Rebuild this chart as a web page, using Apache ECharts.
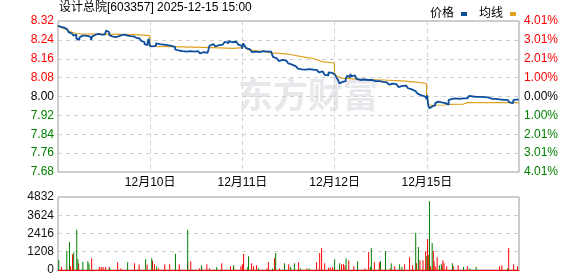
<!DOCTYPE html>
<html><head><meta charset="utf-8">
<script src="https://cdn.jsdelivr.net/npm/echarts@6/dist/echarts.min.js"></script>
<style>html,body{margin:0;padding:0;background:#fff}#c{width:578px;height:276px}</style>
</head><body><div id="c"></div>
<script>
const titleText = '设计总院[603357] 2025-12-15 15:00';
const preClose = 8.00;
const dayLabels = ['', '12月10日', '12月11日', '12月12日', '12月15日', ''];
const rightLabels = ['4.01%','3.01%','2.01%','1.00%','0.00%','1.00%','2.01%','3.01%','4.01%'];
const volTicks = [0, 1208, 2416, 3624, 4832];

// [minute, price]
const price = [
[0,8.300],[4,8.295],[8,8.290],[12,8.292],[16,8.288],[20,8.285],[24,8.280],[28,8.272],[32,8.268],[36,8.262],[40,8.258],[44,8.262],[48,8.245],[52,8.240],[56,8.250],[60,8.258],[64,8.262],[68,8.258],[72,8.262],[76,8.256],[80,8.260],[84,8.252],[86,8.240],[90,8.255],[94,8.262],[98,8.258],[102,8.265],[106,8.258],[110,8.262],[114,8.255],[118,8.262],[122,8.268],[126,8.280],[130,8.272],[134,8.260],[138,8.255],[142,8.258],[146,8.252],[150,8.258],[154,8.255],[158,8.262],[162,8.260],[166,8.266],[170,8.262],[174,8.255],[178,8.258],[182,8.252],[186,8.256],[190,8.250],[194,8.255],[198,8.250],[202,8.248],[206,8.252],[210,8.245],[214,8.240],[218,8.235],[222,8.232],[226,8.222],[230,8.218],[234,8.228],[237,8.245],[240,8.215],
[241,8.212],[246,8.205],[251,8.215],[256,8.225],[261,8.222],[266,8.228],[271,8.220],[276,8.215],[281,8.218],[286,8.212],[291,8.215],[296,8.208],[301,8.210],[306,8.200],[311,8.195],[316,8.198],[321,8.192],[326,8.195],[331,8.190],[336,8.196],[341,8.192],[346,8.195],[351,8.190],[356,8.196],[361,8.192],[366,8.188],[371,8.183],[376,8.188],[381,8.180],[386,8.185],[391,8.182],[396,8.215],[401,8.222],[406,8.218],[411,8.212],[416,8.218],[421,8.215],[426,8.220],[431,8.228],[436,8.232],[441,8.226],[446,8.235],[451,8.230],[456,8.236],[461,8.232],[466,8.225],[471,8.220],[476,8.215],[481,8.202],
[484,8.225],[488,8.215],[492,8.205],[497,8.200],[502,8.192],[507,8.188],[512,8.190],[517,8.185],[522,8.188],[527,8.183],[532,8.192],[537,8.196],[542,8.190],[547,8.195],[552,8.190],[557,8.185],[562,8.168],[567,8.162],[572,8.160],[577,8.150],[582,8.155],[587,8.148],[592,8.152],[597,8.145],[602,8.140],[607,8.135],[612,8.130],[617,8.128],[622,8.122],[627,8.118],[632,8.115],[637,8.118],[642,8.114],[647,8.118],[652,8.116],[657,8.118],[662,8.114],[667,8.118],[672,8.112],[677,8.108],[682,8.102],[687,8.106],[692,8.100],[697,8.092],[702,8.090],[707,8.102],[712,8.100],[717,8.095],[722,8.092],
[724,8.090],[728,8.080],[732,8.070],[736,8.055],[740,8.062],[744,8.068],[748,8.065],[752,8.075],[756,8.088],[760,8.082],[764,8.095],[768,8.085],[772,8.090],[776,8.082],[780,8.075],[785,8.070],[790,8.074],[795,8.072],[800,8.076],[805,8.070],[810,8.074],[815,8.070],[820,8.072],[825,8.065],[830,8.060],[835,8.065],[840,8.058],[845,8.062],[850,8.056],[855,8.060],[860,8.055],[865,8.050],[870,8.055],[875,8.048],[880,8.052],[885,8.046],[890,8.040],[895,8.045],[900,8.042],[905,8.046],[910,8.040],[915,8.035],[920,8.030],[925,8.025],[930,8.022],[935,8.015],[940,8.012],[945,8.005],[950,8.010],[955,8.000],[960,8.005],[963,7.990],
[965,8.005],[968,7.960],[971,7.950],[974,7.958],[978,7.955],[982,7.962],[986,7.972],[990,7.978],[994,7.970],[998,7.975],[1003,7.978],[1008,7.972],[1013,7.976],[1017,7.965],[1021,7.985],[1025,7.990],[1030,7.995],[1035,7.992],[1040,7.996],[1045,7.990],[1050,7.995],[1055,7.992],[1060,7.996],[1065,7.992],[1070,8.000],[1075,8.003],[1080,8.000],[1085,8.004],[1090,7.998],[1095,7.995],[1100,7.998],[1105,7.994],[1110,7.997],[1115,7.993],[1120,7.996],[1125,7.992],[1130,7.990],[1135,7.993],[1140,7.990],[1145,7.992],[1150,7.988],[1155,7.990],[1160,7.986],[1165,7.990],[1170,7.986],[1175,7.988],[1180,7.975],[1185,7.972],[1190,7.985],[1195,7.988],[1200,7.985],[1204,7.988]
];

// [minute, average price]
const avgPrice = [
[0,8.300],[10,8.292],[20,8.285],[30,8.276],[45,8.268],[60,8.265],[120,8.264],[200,8.262],[240,8.258],
[241,8.212],[300,8.211],[400,8.207],[460,8.204],[482,8.207],
[483,8.225],[490,8.205],[500,8.197],[540,8.190],[560,8.185],[600,8.180],[640,8.168],[670,8.160],[690,8.148],[722,8.142],
[723,8.090],[740,8.078],[780,8.074],[850,8.070],[900,8.066],[940,8.060],[963,8.055],
[964,7.990],[968,7.963],[1010,7.964],[1020,7.967],[1060,7.968],[1070,7.974],[1205,7.974]
];

// [minute, volume]
const volUp = [
[9,200],[33,250],[38,1030],[54,425],[88,784],[108,200],[113,200],[118,200],[124,200],[134,200],[156,515],[164,100],[200,448],[212,358],[233,358],[247,605],[252,380],[263,100],[279,380],[292,380],[317,380],[339,500],[347,582],[370,100],[376,100],[389,380],[396,100],[428,448],[451,250],[459,250],[478,250],[485,1053],[482,380],[506,448],[511,250],[519,314],[546,100],[550,515],[566,784],[579,100],[603,380],[629,515],[650,100],[676,515],[684,1120],[689,1456],[697,448],[707,150],[712,150],[718,200],[741,380],[746,400],[750,300],[760,650],[773,250],[802,100],[812,1187],[827,515],[840,515],[868,100],[880,250],[906,380],[919,851],[927,314],[937,448],[946,650],[954,650],[961,1254],[966,2060],[969,985],[974,250],[981,1254],[983,582],[986,250],[991,851],[1003,250],[1006,650],[1009,448],[1016,250],[1033,250],[1046,314],[1070,250],[1154,250],[1160,314],[1178,1456],[1191,380],[1201,250]
];
const volDown = [
[2,650],[23,1254],[30,1860],[41,1165],[49,2666],[52,717],[65,538],[78,582],[81,448],[135,112],[182,515],[229,717],[245,784],[258,246],[307,1053],[339,2666],[375,314],[415,200],[459,314],[496,200],[498,918],[524,100],[561,100],[569,1120],[592,448],[608,200],[618,448],[634,100],[656,100],[723,717],[736,448],[753,784],[783,582],[817,200],[819,1456],[843,582],[856,1254],[871,448],[893,380],[899,200],[935,2464],[942,1523],[964,918],[971,4547],[978,1792],[997,314],[1002,380],[1031,448],[1060,200],[1077,100],[1093,200],[1175,100]
];

const gridL = 58, gridR = 59;
const chart = echarts.init(document.getElementById('c'), null, {renderer: 'canvas'});
const fontFam = '"Liberation Sans", Arial, "Noto Sans CJK SC", sans-serif';
const dash = {type: [4, 4], color: '#cfcfcf', width: 1};

chart.setOption({
  animation: false,
  textStyle: {fontFamily: fontFam},
  legend: {
    right: 57, top: 3, align: 'right', icon: 'rect', itemWidth: 6, itemHeight: 4, itemGap: 12,
    textStyle: {fontSize: 12, color: '#000', fontFamily: fontFam, padding: [0, 2, 0, 0]},
    data: ['价格', '均线']
  },
  graphic: [
    {type: 'text', left: 59, top: 2, style: {text: titleText, fontSize: 12, fill: '#000', fontFamily: fontFam}},
    {type: 'text', left: 238, top: 77, z: -10, style: {text: '东方财富', fontSize: 35, fontWeight: 'bold', fill: '#e8e8ec', fontFamily: '"Noto Sans CJK SC", sans-serif'}}
  ],
  grid: [
    {left: gridL, right: gridR, top: 21, height: 151, show: true, borderColor: '#999', borderWidth: 1, backgroundColor: 'transparent'},
    {left: gridL, right: gridR, top: 197, height: 73, show: true, borderColor: '#999', borderWidth: 1}
  ],
  xAxis: [
    {type: 'value', gridIndex: 0, min: 0, max: 1205, interval: 241,
     axisLine: {show: false}, axisTick: {show: false},
     splitLine: {show: true, lineStyle: dash},
     axisLabel: {show: true, fontSize: 12, color: '#000', margin: 5, showMinLabel: false, showMaxLabel: false,
       formatter: v => dayLabels[Math.round(v / 241)] || ''}},
    {type: 'value', gridIndex: 1, min: 0, max: 1205, interval: 241,
     axisLine: {show: true, onZero: false, lineStyle: {color: '#ff0000', width: 1}}, axisTick: {show: false},
     splitLine: {show: false}, axisLabel: {show: false}}
  ],
  yAxis: [
    {type: 'value', gridIndex: 0, min: 7.68, max: 8.32, interval: 0.08,
     axisLine: {show: false}, axisTick: {show: false},
     splitLine: {show: true, lineStyle: dash},
     axisLabel: {fontSize: 12, margin: 4, formatter: v => v.toFixed(2),
       color: v => v > preClose + 0.001 ? '#ff0000' : (v < preClose - 0.001 ? '#008000' : '#000')}},
    {type: 'value', gridIndex: 0, position: 'right', min: 7.68, max: 8.32, interval: 0.08,
     axisLine: {show: false}, axisTick: {show: false}, splitLine: {show: false},
     axisLabel: {fontSize: 12, margin: 5,
       formatter: (v) => rightLabels[Math.round((v - 7.68) / 0.08)],
       color: v => v > preClose + 0.001 ? '#ff0000' : (v < preClose - 0.001 ? '#008000' : '#000')}},
    {type: 'value', gridIndex: 1, min: volTicks[0], max: volTicks[volTicks.length - 1], interval: 1208,
     axisLine: {show: false}, axisTick: {show: false},
     splitLine: {show: true, lineStyle: dash},
     axisLabel: {fontSize: 12, margin: 4, color: '#111', formatter: v => String(Math.round(v))}}
  ],
  series: [
    {name: '价格', type: 'line', xAxisIndex: 0, yAxisIndex: 0, data: price, symbol: 'none', step: 'end',
     itemStyle: {color: '#0d4f9e'}, lineStyle: {color: '#0d4f9e', width: 1.8}, z: 3},
    {name: '均线', type: 'line', xAxisIndex: 0, yAxisIndex: 0, data: avgPrice, symbol: 'none',
     itemStyle: {color: '#e0a21e'}, lineStyle: {color: '#e0a21e', width: 1.2}, z: 2},
    {type: 'bar', xAxisIndex: 1, yAxisIndex: 2, data: volUp, barWidth: 1, itemStyle: {color: '#ff0000'}},
    {type: 'bar', xAxisIndex: 1, yAxisIndex: 2, data: volDown, barWidth: 1, barGap: '-100%', itemStyle: {color: '#008000'}}
  ]
});
</script>
</body></html>
